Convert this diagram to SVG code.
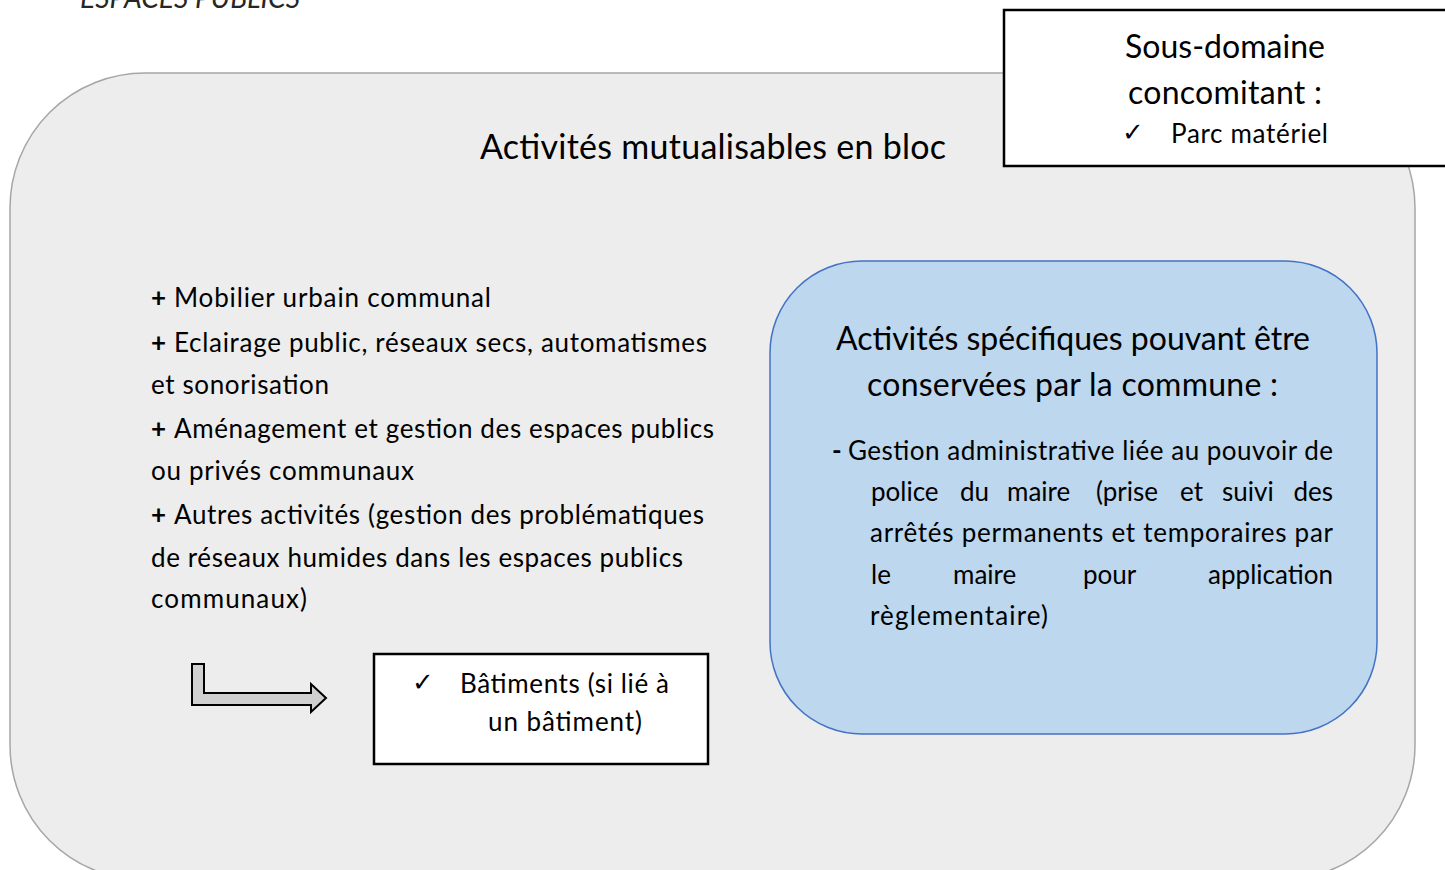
<svg xmlns="http://www.w3.org/2000/svg" width="1445" height="870" viewBox="0 0 1445 870">
<style>
text{font-family:Lato,"Liberation Sans",sans-serif;fill:#000}
.t26{font-size:26px}
.t32{font-size:32px}
.t34{font-size:34px}
.b{font-weight:bold}
.c{text-anchor:middle}
.e{text-anchor:end}
</style>
<rect width="1445" height="870" fill="#fff"/>
<text x="80" y="8" textLength="220" lengthAdjust="spacingAndGlyphs" style="font-size:28px;font-style:italic;fill:#262626">ESPACES PUBLICS</text>
<g id="main">
<rect x="10" y="73" width="1405" height="807" rx="135" ry="135" fill="#ededed" stroke="#a6a6a6" stroke-width="1.5"/>
<text x="480" y="159" class="t34" textLength="466">Activités mutualisables en bloc</text>
<g id="list" class="t26">
<text x="151" y="307" class="b">+</text><text x="174" y="307" textLength="317">Mobilier urbain communal</text>
<text x="151" y="352" class="b">+</text><text x="174" y="352" textLength="533">Eclairage public, réseaux secs, automatismes</text>
<text x="151" y="394" textLength="178">et sonorisation</text>
<text x="151" y="438" class="b">+</text><text x="174" y="438" textLength="540">Aménagement et gestion des espaces publics</text>
<text x="151" y="480" textLength="263">ou privés communaux</text>
<text x="151" y="524" class="b">+</text><text x="174" y="524" textLength="530">Autres activités (gestion des problématiques</text>
<text x="151" y="567" textLength="532">de réseaux humides dans les espaces publics</text>
<text x="151" y="608" textLength="156">communaux)</text>
</g>
</g>
<g id="souscommune">
<rect x="1004" y="10" width="460" height="156" fill="#fff" stroke="#000" stroke-width="2.5"/>
<text x="1125" y="58" class="t32" textLength="200">Sous-domaine</text>
<text x="1128" y="104" class="t32" textLength="194">concomitant :</text>
<text x="1122" y="141" class="t26">✓</text>
<text x="1171" y="143" class="t26" textLength="157">Parc matériel</text>
</g>
<g id="specifiques">
<rect x="770" y="261" width="607" height="473" rx="92" ry="92" fill="#bdd7ee" stroke="#4472c4" stroke-width="1.5"/>
<text x="836" y="350" class="t32" textLength="474">Activités spécifiques pouvant être</text>
<text x="867" y="396" class="t32" textLength="411">conservées par la commune :</text>
<g class="t26">
<text x="832" y="460" class="b">-</text><text x="848" y="460" textLength="485">Gestion administrative liée au pouvoir de</text>
<text x="871" y="501">police</text>
<text x="960" y="501">du</text>
<text x="1007" y="501">maire</text>
<text x="1096" y="501">(prise</text>
<text x="1180" y="501">et</text>
<text x="1222" y="501">suivi</text>
<text x="1333" y="501" class="e">des</text>
<text x="870" y="542" textLength="463">arrêtés permanents et temporaires par</text>
<text x="871" y="584">le</text>
<text x="953" y="584">maire</text>
<text x="1083" y="584">pour</text>
<text x="1333" y="584" class="e">application</text>
<text x="870" y="625" textLength="178">règlementaire)</text>
</g>
</g>
<g id="batiments">
<rect x="374" y="654" width="334" height="110" fill="#fff" stroke="#000" stroke-width="2.5"/>
<text x="412" y="691" class="t26">✓</text>
<text x="460" y="693" class="t26" textLength="209">Bâtiments (si lié à</text>
<text x="488" y="731" class="t26" textLength="154">un bâtiment)</text>
</g>
<g id="connectors">
<path d="M192,664 H204 V693 H311 V684 L326,698 L311,712 V705 H192 Z" fill="#d0d0d0" stroke="#000" stroke-width="2" stroke-linejoin="miter"/>
</g>
</svg>
